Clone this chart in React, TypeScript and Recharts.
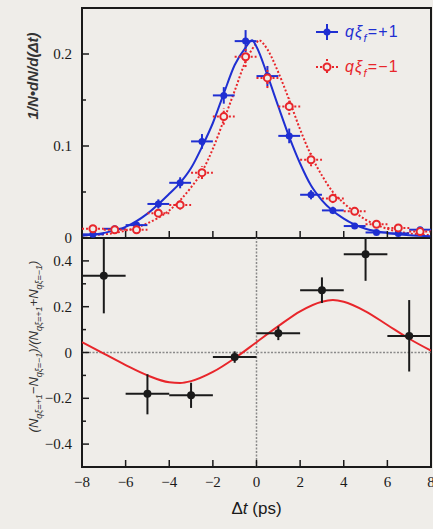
import React from "react";
import { ComposedChart, Line, Scatter, ErrorBar, XAxis, YAxis, ReferenceArea, ReferenceLine, Legend, Label } from "recharts";

const BG = "#efede9";
const INK = "#1a1a1a";
const BLUE = "#1f2fd2";
const RED = "#e8262b";
const SERIF = "'Liberation Serif', 'Times New Roman', serif";
const SANS = "'Liberation Sans', Arial, sans-serif";

// top panel: delta t distributions, 1 ps bins
const bins = [-7.5, -6.5, -5.5, -4.5, -3.5, -2.5, -1.5, -0.5, 0.5, 1.5, 2.5, 3.5, 4.5, 5.5, 6.5, 7.5];
const binHalfWidth = 0.5;
const plusValues = [0.004, 0.01, 0.014, 0.037, 0.06, 0.105, 0.155, 0.214, 0.176, 0.111, 0.047, 0.03, 0.013, 0.006, 0.005, 0.009];
const plusErrors = [0.002, 0.003, 0.003, 0.005, 0.006, 0.008, 0.009, 0.012, 0.011, 0.008, 0.005, 0.004, 0.003, 0.002, 0.002, 0.003];
const minusValues = [0.01, 0.009, 0.009, 0.027, 0.036, 0.071, 0.132, 0.197, 0.174, 0.143, 0.085, 0.043, 0.029, 0.015, 0.011, 0.007];
const minusErrors = [0.003, 0.003, 0.003, 0.004, 0.005, 0.007, 0.009, 0.011, 0.011, 0.009, 0.007, 0.005, 0.004, 0.003, 0.003, 0.002];

// fit curves
const plusFitX = [-8, -7, -6, -5, -4, -3.5, -3, -2.5, -2, -1.5, -1, -0.5, -0.2, 0, 0.5, 1, 1.5, 2, 2.5, 3, 4, 5, 6, 7, 8];
const plusFitY = [0.0025, 0.0055, 0.012, 0.0265, 0.048, 0.06, 0.076, 0.099, 0.125, 0.157, 0.188, 0.207, 0.215, 0.208, 0.177, 0.143, 0.11, 0.081, 0.057, 0.041, 0.021, 0.01, 0.0055, 0.003, 0.002];
const minusFitX = [-8, -7, -6, -5, -4, -3, -2.5, -2, -1.5, -1, -0.5, 0, 0.1, 0.5, 1, 1.5, 2, 2.5, 3, 3.5, 4, 5, 6, 7, 8];
const minusFitY = [0.003, 0.004, 0.008, 0.016, 0.03, 0.055, 0.072, 0.097, 0.128, 0.16, 0.192, 0.212, 0.215, 0.205, 0.18, 0.15, 0.118, 0.09, 0.068, 0.05, 0.038, 0.02, 0.01, 0.005, 0.003];

// bottom panel: asymmetry, 2 ps bins
const asymBins = [-7, -5, -3, -1, 1, 3, 5, 7];
const asymHalfWidth = 1;
const asymValues = [0.335, -0.18, -0.187, -0.02, 0.084, 0.272, 0.429, 0.072];
const asymErrLow = [0.164, 0.09, 0.055, 0.025, 0.03, 0.056, 0.116, 0.155];
const asymErrHigh = [0.163, 0.085, 0.055, 0.025, 0.03, 0.056, 0.07, 0.157];
const sineX = [-8, -7, -6, -5, -4, -3.5, -3, -2, -1, 0, 1, 2, 3, 3.5, 4, 5, 6, 7, 8];
const sineY = [0.045, -0.005, -0.055, -0.1, -0.13, -0.133, -0.125, -0.085, -0.025, 0.045, 0.115, 0.18, 0.222, 0.229, 0.222, 0.18, 0.12, 0.06, 0.008];

const xTicks = [-8, -6, -4, -2, 0, 2, 4, 6, 8];
const xTickLabels = ["−8", "−6", "−4", "−2", "0", "2", "4", "6", "8"];
const topMajor = [0, 0.1, 0.2];
const topLabels = ["0", "0.1", "0.2"];
const topMinor = [0.05, 0.15];
const bottomMajor = [-0.4, -0.2, 0, 0.2, 0.4];
const bottomLabels = ["−0.4", "−0.2", "0", "0.2", "0.4"];
const bottomMinor = [-0.3, -0.1, 0.1, 0.3];
const legendLabels = ["=+1", "=−1"];

const plusPoints = bins.map((x, i) => ({ x, y: plusValues[i], xErr: binHalfWidth, yErr: plusErrors[i] }));
const minusPoints = bins.map((x, i) => ({ x, y: minusValues[i], xErr: binHalfWidth, yErr: minusErrors[i] }));
const plusFit = plusFitX.map((x, i) => ({ x, y: plusFitY[i] }));
const minusFit = minusFitX.map((x, i) => ({ x, y: minusFitY[i] }));
const asymPoints = asymBins.map((x, i) => ({ x, y: asymValues[i], xErr: asymHalfWidth, yErr: [asymErrLow[i], asymErrHigh[i]] }));
const sineFit = sineX.map((x, i) => ({ x, y: sineY[i] }));

function makeYTick(major: number[], labels: string[]) {
  return (props: any) => {
    const { x, y, payload } = props;
    const i = major.findIndex((m) => Math.abs(m - payload.value) < 1e-9);
    const len = i >= 0 ? 7 : 4;
    return (
      <g>
        <line x1={x + 10} x2={x + 10 + len} y1={y} y2={y} stroke={INK} strokeWidth={1.5} />
        {i >= 0 && (
          <text x={x} y={y} dy={5} textAnchor="end" fontFamily={SERIF} fontSize={15} fill={INK}>
            {labels[i]}
          </text>
        )}
      </g>
    );
  };
}

function makeXTick(withLabels: boolean) {
  return (props: any) => {
    const { x, y, index } = props;
    return (
      <g>
        <line x1={x} x2={x} y1={y} y2={y - 7} stroke={INK} strokeWidth={1.5} />
        {withLabels && (
          <text x={x} y={y + 20} textAnchor="middle" fontFamily={SERIF} fontSize={15} fill={INK}>
            {xTickLabels[index]}
          </text>
        )}
      </g>
    );
  };
}

function TopYTitle(props: any) {
  const { viewBox } = props;
  const cx = 38;
  const cy = viewBox.y + 68;
  return (
    <text x={cx} y={cy} transform={`rotate(-90, ${cx}, ${cy})`} textAnchor="middle" fontFamily={SANS} fontSize={15} fontStyle="italic" fontWeight="bold" fill="#333">
      1/N•dN/d(Δt)
    </text>
  );
}

function BottomYTitle(props: any) {
  const { viewBox } = props;
  const cx = 38;
  const cy = viewBox.y + viewBox.height / 2 - 6;
  const sub = (s: string) => (
    <tspan fontSize={9} dy={4}>{s}</tspan>
  );
  const up = (s: string) => <tspan dy={-4}>{s}</tspan>;
  return (
    <text x={cx} y={cy} transform={`rotate(-90, ${cx}, ${cy})`} textAnchor="middle" fontFamily={SANS} fontSize={13} fontStyle="italic" fill="#333">
      (N{sub("qξ=+1")}{up("−N")}{sub("qξ=−1")}{up(")/(N")}{sub("qξ=+1")}{up("+N")}{sub("qξ=−1")}{up(")")}
    </text>
  );
}

function XTitle(props: any) {
  const { viewBox } = props;
  return (
    <text x={viewBox.x + viewBox.width / 2} y={viewBox.y + 47} textAnchor="middle" fontFamily={SANS} fontSize={17} fill={INK}>
      Δ<tspan fontStyle="italic">t</tspan> (ps)
    </text>
  );
}

function LegendBox() {
  return (
    <div style={{ fontFamily: SANS, fontSize: 16, letterSpacing: 1.2 }}>
      {legendLabels.map((lab, i) => {
        const color = i === 0 ? BLUE : RED;
        const dash = i === 0 ? undefined : "2 2";
        return (
          <div key={lab} style={{ display: "flex", alignItems: "center", height: 35, color }}>
            <svg width={26} height={20}>
              <line x1={2} x2={24} y1={10} y2={10} stroke={color} strokeWidth={2} strokeDasharray={dash} />
              <line x1={13} x2={13} y1={2} y2={18} stroke={color} strokeWidth={2} strokeDasharray={dash} />
              {i === 0 ? (
                <circle cx={13} cy={10} r={3.5} fill={color} />
              ) : (
                <circle cx={13} cy={10} r={3.5} fill={BG} stroke={color} strokeWidth={2} />
              )}
            </svg>
            <span style={{ marginLeft: 5, whiteSpace: "nowrap" }}>
              <span style={{ fontStyle: "italic" }}>qξ</span>
              <span style={{ fontStyle: "italic", fontSize: 11, position: "relative", top: 5 }}>f</span>
              {lab}
            </span>
          </div>
        );
      })}
    </div>
  );
}

const bluePoint = (p: any) => <circle cx={p.cx} cy={p.cy} r={3.5} fill={BLUE} />;
const redPoint = (p: any) => <circle cx={p.cx} cy={p.cy} r={3.5} fill={BG} stroke={RED} strokeWidth={2} />;
const blackPoint = (p: any) => <circle cx={p.cx} cy={p.cy} r={4} fill={INK} />;

export default function App() {
  return (
    <div style={{ position: "absolute", left: 0, top: 0, width: 433, height: 529, background: BG, overflow: "hidden" }}>
      <div style={{ position: "absolute", left: 0, top: 0 }}>
        <ComposedChart width={433} height={250} margin={{ top: 8, right: 2, bottom: 0, left: 0 }}>
          <XAxis dataKey="x" type="number" domain={[-8, 8]} ticks={xTicks} allowDataOverflow height={12} axisLine={false} tickLine={false} tickSize={0} tickMargin={0} tick={makeXTick(false)} interval={0} />
          <YAxis type="number" domain={[0, 0.25]} ticks={[...topMajor, ...topMinor].sort((a, b) => a - b)} allowDataOverflow width={82} axisLine={false} tickLine={false} tickSize={0} tickMargin={10} tick={makeYTick(topMajor, topLabels)} interval={0}>
            <Label content={<TopYTitle />} />
          </YAxis>
          <Line data={minusFit} dataKey="y" type="monotone" stroke={RED} strokeWidth={2} strokeDasharray="2 2" dot={false} isAnimationActive={false} />
          <Line data={plusFit} dataKey="y" type="monotone" stroke={BLUE} strokeWidth={2} dot={false} isAnimationActive={false} />
          <Scatter data={plusPoints} dataKey="y" shape={bluePoint} isAnimationActive={false}>
            <ErrorBar dataKey="xErr" direction="x" width={0} stroke={BLUE} strokeWidth={2} isAnimationActive={false} />
            <ErrorBar dataKey="yErr" direction="y" width={0} stroke={BLUE} strokeWidth={2} isAnimationActive={false} />
          </Scatter>
          <Scatter data={minusPoints} dataKey="y" shape={redPoint} isAnimationActive={false}>
            <ErrorBar dataKey="xErr" direction="x" width={0} stroke={RED} strokeWidth={2} strokeDasharray="2 2" isAnimationActive={false} />
            <ErrorBar dataKey="yErr" direction="y" width={0} stroke={RED} strokeWidth={2} strokeDasharray="2 2" isAnimationActive={false} />
          </Scatter>
          <ReferenceArea x1={-8} x2={8} y1={0} y2={0.25} fill="none" stroke={INK} strokeWidth={2} />
          <Legend layout="vertical" align="center" verticalAlign="middle" content={<LegendBox />} wrapperStyle={{ left: 314, top: 14, width: 119, height: 70 }} />
        </ComposedChart>
      </div>
      <div style={{ position: "absolute", left: 0, top: 238 }}>
        <ComposedChart width={433} height={291} margin={{ top: 0, right: 2, bottom: 0, left: 0 }}>
          <XAxis dataKey="x" type="number" domain={[-8, 8]} ticks={xTicks} allowDataOverflow height={62} axisLine={false} tickLine={false} tickSize={0} tickMargin={0} tick={makeXTick(true)} interval={0}>
            <Label content={<XTitle />} />
          </XAxis>
          <YAxis type="number" domain={[-0.5, 0.5]} ticks={[...bottomMajor, ...bottomMinor].sort((a, b) => a - b)} allowDataOverflow width={82} axisLine={false} tickLine={false} tickSize={0} tickMargin={10} tick={makeYTick(bottomMajor, bottomLabels)} interval={0}>
            <Label content={<BottomYTitle />} />
          </YAxis>
          <ReferenceLine y={0} stroke="#8a8a8a" strokeWidth={1.5} strokeDasharray="2 1.5" />
          <ReferenceLine x={0} stroke="#8a8a8a" strokeWidth={1.5} strokeDasharray="2 1.5" />
          <Line data={sineFit} dataKey="y" type="monotone" stroke={RED} strokeWidth={2} dot={false} isAnimationActive={false} />
          <Scatter data={asymPoints} dataKey="y" shape={blackPoint} isAnimationActive={false}>
            <ErrorBar dataKey="xErr" direction="x" width={0} stroke={INK} strokeWidth={2} isAnimationActive={false} />
            <ErrorBar dataKey="yErr" direction="y" width={0} stroke={INK} strokeWidth={2} isAnimationActive={false} />
          </Scatter>
          <ReferenceArea x1={-8} x2={8} y1={-0.5} y2={0.5} fill="none" stroke={INK} strokeWidth={2} />
        </ComposedChart>
      </div>
    </div>
  );
}
